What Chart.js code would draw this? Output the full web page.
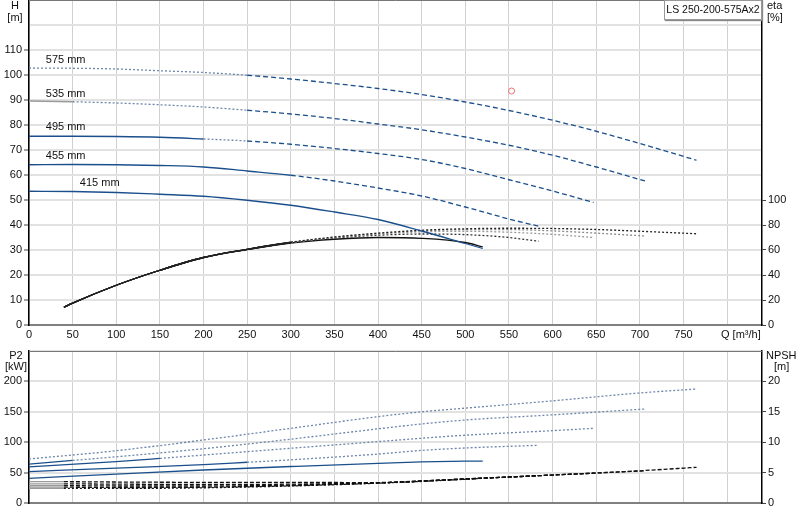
<!DOCTYPE html>
<html lang="en">
<head>
  <meta charset="UTF-8">
  <title>LS 250-200-575Ax2</title>
  <style>
    body {
      margin: 0;
      background: #fff;
      font-family: 'Liberation Sans', Arial, sans-serif;
    }
    #wrap {
      position: relative;
      width: 800px;
      height: 520px;
    }
    canvas {
      position: absolute;
      left: 0;
    }
    #top { top: 0; }
    #bottom { top: 340px; }
    #legend {
      position: absolute;
      left: 664px;
      top: 0;
      width: 96px;
      height: 18px;
      border: 1px solid #999;
      box-shadow: 1px 1px 1px #888;
      background: #fff;
      font-size: 10.5px;
      line-height: 17px;
      text-align: center;
      white-space: nowrap;
      color: #111;
    }
  </style>
  <script src="https://cdn.jsdelivr.net/npm/chart.js"></script>
</head>
<body>
  <div id="wrap">
    <canvas id="top" width="800" height="345"></canvas>
    <canvas id="bottom" width="800" height="180"></canvas>
    <div id="legend">LS 250-200-575Ax2</div>
  </div>

  <script>
    // impeller diameters
    const impellers = ['575 mm', '535 mm', '495 mm', '455 mm', '415 mm'];
    const labelQ = [42, 42, 42, 42, 81];
    const labelH = [105.9, 92.3, 79.1, 67.5, 56.7];

    // head H [m]
    const q575 = [0, 50, 100, 150, 200, 250, 300, 350, 400, 450, 500, 550, 600, 650, 700, 765];
    const h575 = [102.8, 102.7, 102.4, 101.7, 101, 99.9, 98.4, 96.6, 94.6, 92.2, 89.2, 85.8, 81.9, 77.5, 72.6, 65.9];
    const q535 = [0, 50, 100, 150, 200, 250, 300, 350, 400, 450, 500, 550, 600, 650, 706];
    const h535 = [89.6, 89.3, 88.8, 88.1, 87.2, 85.9, 84.4, 82.6, 80.4, 78.1, 75.2, 71.9, 67.9, 63.2, 57.6];
    const q495 = [0, 50, 100, 150, 200, 250, 300, 350, 400, 450, 500, 550, 600, 647];
    const h495 = [75.5, 75.5, 75.4, 75.1, 74.4, 73.6, 72.3, 70.6, 68.6, 66.2, 62.6, 58.1, 53.6, 49];
    const q455 = [0, 50, 100, 150, 200, 250, 300, 350, 400, 450, 500, 550, 584];
    const h455 = [64.1, 64.2, 64.1, 63.8, 63.2, 61.6, 59.9, 57.6, 54.8, 51.6, 47.2, 42.4, 39.5];
    const q415 = [0, 50, 100, 150, 200, 250, 300, 350, 400, 450, 500, 520];
    const h415 = [53.5, 53.4, 53, 52.3, 51.5, 49.9, 47.9, 45.2, 42.2, 37.6, 32.6, 30.6];

    // efficiency eta [%]
    const qe575 = [40, 50, 100, 150, 200, 250, 300, 350, 400, 450, 500, 550, 600, 650, 700, 765];
    const e575 = [14.2, 17.5, 31.8, 43.8, 54, 60.5, 66.2, 70.4, 73.5, 75.8, 77, 77.4, 77.2, 76.4, 75, 73];
    const qe535 = [40, 50, 100, 150, 200, 250, 300, 350, 400, 450, 500, 550, 600, 650, 706];
    const e535 = [14.2, 17.5, 31.8, 43.8, 54, 60.5, 66, 70.2, 73.2, 75.3, 76.3, 76.3, 75.3, 73.5, 71.2];
    const qe495 = [40, 50, 100, 150, 200, 250, 300, 350, 400, 450, 500, 550, 600, 647];
    const e495 = [14.2, 17.5, 31.8, 43.8, 54, 60.5, 66, 70, 72.8, 74.5, 75, 74.2, 72.5, 70];
    const qe455 = [40, 50, 100, 150, 200, 250, 300, 350, 400, 450, 500, 550, 584];
    const e455 = [14.2, 17.5, 31.8, 43.8, 54, 60.5, 66, 69.5, 71.8, 72.8, 72.3, 70, 67];
    const qe415 = [40, 50, 100, 150, 200, 250, 300, 350, 400, 450, 500, 520];
    const e415 = [14.2, 17.5, 31.8, 43.8, 54, 60.3, 65.6, 68.6, 70, 69.3, 66, 62.5];

    // duty point
    const dutyQ = [553];
    const dutyH = [93.6];

    // power P2 [kW]
    const qp575 = [0, 100, 200, 300, 400, 450, 500, 600, 700, 765];
    const p575 = [72.4, 86, 103.6, 122.8, 142, 150, 156, 168, 181, 187.5];
    const qp535 = [0, 50, 100, 200, 300, 400, 450, 500, 600, 706];
    const p535 = [64.1, 70, 76, 89.3, 105, 122, 130, 136.5, 145, 154.6];
    const qp495 = [0, 100, 150, 200, 300, 400, 450, 500, 600, 647];
    const p495 = [59.5, 68, 73.3, 78.9, 90, 101, 106.5, 111.5, 119, 122.8];
    const qp455 = [0, 100, 200, 250, 300, 400, 450, 500, 584];
    const p455 = [51.5, 57.5, 63, 67, 71, 80.5, 86.5, 90.5, 94.9];
    const qp415 = [0, 100, 200, 300, 400, 450, 500, 520];
    const p415 = [40.6, 47.5, 54.3, 60, 65.3, 67.5, 68.8, 69];

    // NPSH [m]
    const qn575 = [0, 40, 100, 200, 300, 400, 500, 600, 700, 765];
    const n575 = [3.5, 3.5, 3.45, 3.4, 3.4, 3.35, 3.95, 4.6, 5.3, 5.87];
    const qn535 = [0, 40, 100, 200, 300, 400, 500, 600, 706];
    const n535 = [3.15, 3.15, 3.1, 3.05, 3.1, 3.35, 3.95, 4.6, 5.3];
    const qn495 = [0, 40, 100, 200, 300, 400, 500, 600, 647];
    const n495 = [2.85, 2.85, 2.8, 2.8, 2.95, 3.3, 3.95, 4.6, 4.9];
    const qn455 = [0, 40, 100, 200, 300, 400, 500, 584];
    const n455 = [2.6, 2.6, 2.55, 2.6, 2.85, 3.3, 3.95, 4.5];
    const qn415 = [0, 40, 100, 200, 300, 400, 500, 520];
    const n415 = [2.4, 2.4, 2.4, 2.5, 2.8, 3.25, 3.9, 4.06];

    const BLUE = '#1b4f8c';
    const DOT = '#6f86ab';
    const GREY = '#9a9a9a';
    const FONT = { family: "'Liberation Sans', Arial, sans-serif", size: 11 };

    function pts(qs, vs) {
      return qs.map((q, i) => ({ x: q, y: vs[i] }));
    }

    // solid up to solidTo, dotted up to dotTo, then tail style
    function curve(qs, vs, axis, solidTo, dotTo, tail, color, dotColor, tailColor) {
      return {
        data: pts(qs, vs),
        yAxisID: axis,
        borderColor: color,
        borderWidth: 1.3,
        pointRadius: 0,
        fill: false,
        cubicInterpolationMode: 'monotone',
        segment: {
          borderDash: c => {
            const x = c.p0.parsed.x;
            return x < solidTo ? [] : x < dotTo ? [2, 2] : tail;
          },
          borderColor: c => {
            const x = c.p0.parsed.x;
            return x < solidTo ? color : x < dotTo ? dotColor : tailColor;
          }
        }
      };
    }

    function textPlugin(items) {
      return {
        id: 'texts',
        afterDraw(chart) {
          const c = chart.ctx;
          c.save();
          c.font = "11px 'Liberation Sans', Arial, sans-serif";
          c.fillStyle = '#111';
          c.textBaseline = 'middle';
          items(chart).forEach(t => {
            c.textAlign = t.align || 'left';
            c.fillText(t.text, t.x, t.y);
          });
          // top border of the plot
          const a = chart.chartArea;
          c.strokeStyle = '#777';
          c.lineWidth = 1;
          c.beginPath();
          c.moveTo(a.left, a.top + 0.5);
          c.lineTo(a.right, a.top + 0.5);
          c.stroke();
          c.restore();
        }
      };
    }

    function noPad(s) {
      s.paddingTop = 0;
      s.paddingBottom = 0;
      s.paddingLeft = 0;
      s.paddingRight = 0;
    }

    function xScale(showLabels, h) {
      return {
        type: 'linear',
        min: 0,
        max: 840,
        afterBuildTicks: s => { s.ticks = []; for (let v = 0; v <= 800; v += 50) s.ticks.push({ value: v }); },
        ticks: {
          display: showLabels,
          autoSkip: false,
          maxRotation: 0,
          padding: 3,
          color: '#111',
          font: FONT,
          callback: v => (v === 800 ? '' : v)
        },
        grid: { color: '#d0d0d0', lineWidth: 1, drawTicks: false },
        border: { color: '#808080', width: 2 },
        afterFit: s => { s.height = h; noPad(s); }
      };
    }

    function leftScale(max, step, lastLabel) {
      return {
        position: 'left',
        min: 0,
        max: max,
        ticks: {
          stepSize: step,
          padding: 2,
          color: '#111',
          font: FONT,
          callback: v => (v <= lastLabel ? v : '')
        },
        grid: {
          color: '#e2e2e2',
          lineWidth: 2,
          tickLength: 5,
          tickWidth: 1,
          tickColor: c => (c.tick && c.tick.value <= lastLabel ? '#444' : 'transparent')
        },
        border: { color: '#000', width: 1.5 },
        afterFit: s => { s.width = 29; noPad(s); }
      };
    }

    function rightScale(max, step, lastLabel) {
      return {
        position: 'right',
        min: 0,
        max: max,
        ticks: {
          stepSize: step,
          padding: 2,
          color: '#111',
          font: FONT,
          callback: v => (v <= lastLabel ? v : '')
        },
        grid: {
          drawOnChartArea: false,
          tickLength: 4,
          tickWidth: 1,
          tickColor: c => (c.tick && c.tick.value <= lastLabel ? '#444' : 'transparent')
        },
        border: { color: '#000', width: 1.5 },
        afterFit: s => { s.width = 38; noPad(s); }
      };
    }

    const baseOptions = {
      responsive: false,
      animation: false,
      plugins: { legend: { display: false }, tooltip: { enabled: false } }
    };

    // ---- top chart: H and eta ----
    new Chart(document.getElementById('top'), {
      type: 'line',
      data: {
        datasets: [
          curve(q575, h575, 'y', 0, 235, [5, 3], BLUE, DOT, BLUE),
          curve(q535, h535, 'y', 50, 210, [5, 3], GREY, DOT, BLUE),
          curve(q495, h495, 'y', 175, 245, [5, 3], BLUE, DOT, BLUE),
          curve(q455, h455, 'y', 270, 270, [5, 3], BLUE, DOT, BLUE),
          curve(q415, h415, 'y', Infinity, Infinity, [], BLUE, DOT, BLUE),
          curve(qe575, e575, 'y2', 300, Infinity, [], '#222', '#222', '#222'),
          curve(qe535, e535, 'y2', 300, Infinity, [], '#222', '#8a8a8a', '#8a8a8a'),
          curve(qe495, e495, 'y2', 300, Infinity, [], '#222', '#9a9a9a', '#9a9a9a'),
          curve(qe455, e455, 'y2', 300, Infinity, [], '#222', '#333', '#333'),
          curve(qe415, e415, 'y2', Infinity, Infinity, [], '#111', '#111', '#111'),
          {
            type: 'scatter',
            data: pts(dutyQ, dutyH),
            yAxisID: 'y',
            showLine: false,
            pointRadius: 3,
            pointBorderWidth: 1,
            pointBorderColor: '#f07070',
            pointBackgroundColor: 'rgba(0,0,0,0)'
          }
        ]
      },
      options: Object.assign({}, baseOptions, {
        layout: { autoPadding: false, padding: { top: 0, left: 0, right: 0, bottom: 0 } },
        scales: {
          x: xScale(true, 20),
          y: leftScale(130, 10, 110),
          y2: rightScale(260, 20, 100)
        }
      }),
      plugins: [textPlugin(chart => {
        const xs = chart.scales.x, ys = chart.scales.y;
        const list = [
          { text: 'H', x: 15, y: 6, align: 'center' },
          { text: '[m]', x: 15, y: 18, align: 'center' },
          { text: 'eta', x: 767, y: 6 },
          { text: '[%]', x: 767, y: 18 },
          { text: 'Q [m\u00b3/h]', x: 721, y: 335 }
        ];
        impellers.forEach((name, i) => {
          list.push({ text: name, x: xs.getPixelForValue(labelQ[i]), y: ys.getPixelForValue(labelH[i]), align: 'center' });
        });
        return list;
      })]
    });

    // ---- bottom chart: P2 and NPSH ----
    new Chart(document.getElementById('bottom'), {
      type: 'line',
      data: {
        datasets: [
          curve(qp575, p575, 'y', 0, Infinity, [2, 2], BLUE, DOT, DOT),
          curve(qp535, p535, 'y', 50, Infinity, [2, 2], BLUE, DOT, DOT),
          curve(qp495, p495, 'y', 150, Infinity, [2, 2], BLUE, DOT, DOT),
          curve(qp455, p455, 'y', 250, Infinity, [2, 2], BLUE, DOT, DOT),
          curve(qp415, p415, 'y', Infinity, Infinity, [], BLUE, DOT, DOT),
          curve(qn575, n575, 'y2', 40, 40, [4, 2], GREY, GREY, '#111'),
          curve(qn535, n535, 'y2', 40, 40, [4, 2], GREY, GREY, '#111'),
          curve(qn495, n495, 'y2', 40, 40, [4, 2], GREY, GREY, '#111'),
          curve(qn455, n455, 'y2', 40, 40, [4, 2], GREY, GREY, '#111'),
          curve(qn415, n415, 'y2', 40, Infinity, [], GREY, '#111', '#111')
        ]
      },
      options: Object.assign({}, baseOptions, {
        layout: { autoPadding: false, padding: { top: 11, left: 0, right: 0, bottom: 0 } },
        scales: {
          x: xScale(false, 17),
          y: leftScale(250, 50, 200),
          y2: rightScale(25, 5, 20)
        }
      }),
      plugins: [textPlugin(() => [
        { text: 'P2', x: 16, y: 16, align: 'center' },
        { text: '[kW]', x: 16, y: 27, align: 'center' },
        { text: 'NPSH', x: 766, y: 16 },
        { text: '[m]', x: 774, y: 27 }
      ])]
    });
  </script>
</body>
</html>
